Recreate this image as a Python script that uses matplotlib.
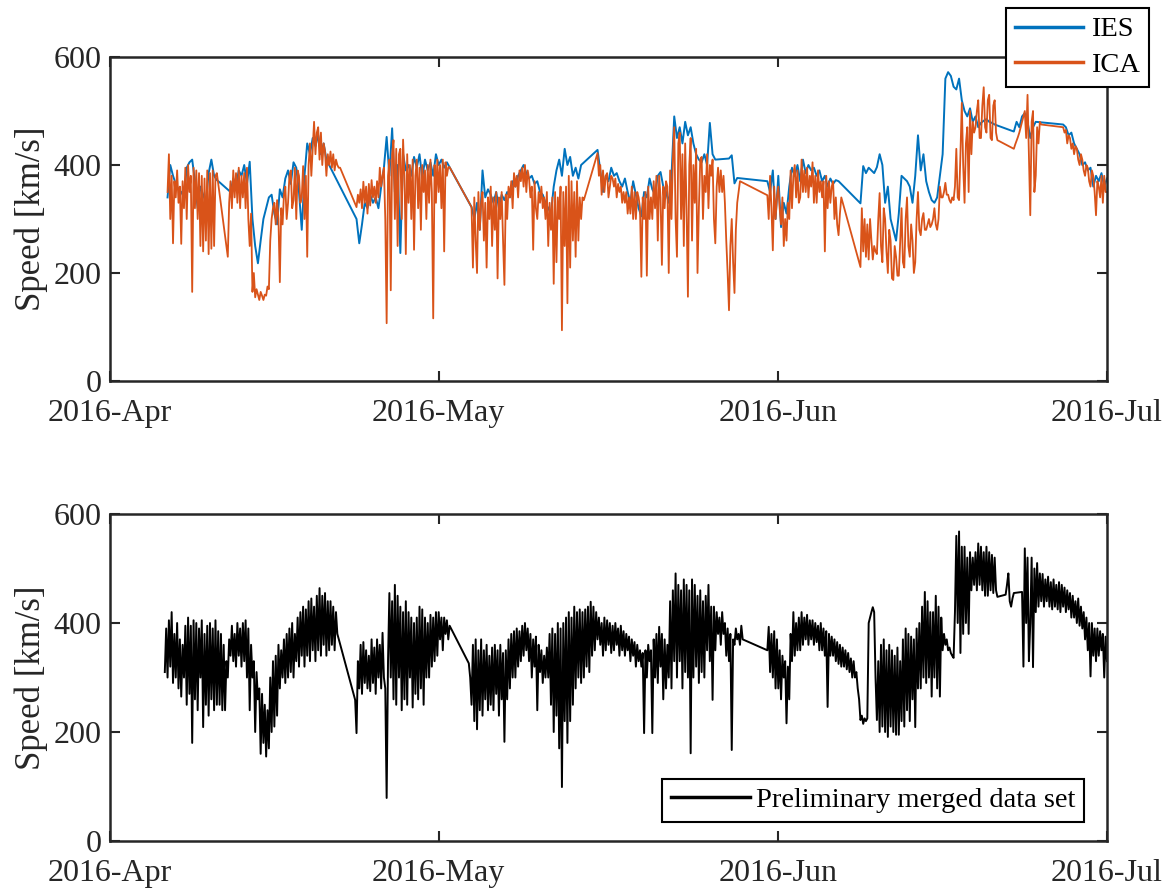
import numpy as np
import matplotlib
matplotlib.use('Agg')
import matplotlib.pyplot as plt
import matplotlib.dates as mdates

plt.rcParams['font.family'] = ['Liberation Serif', 'DejaVu Serif']

STEP_IES = 0.25    # days between samples inside a segment
STEP_ICA = 0.125
STEP_M = 0.125
T0 = np.datetime64('2016-04-01T00:00')

# solar wind speed [km/s], segments given as (start day after 2016-04-01, samples)
ies_start = [5.25, 11.0, 22.5, 33.0, 44.5, 56.5, 60.0, 68.5, 82.5, 87.0]
ies_speed = [
    [340, 400, 380, 365, 355, 350, 340, 395, 405, 410, 370, 320, 360, 345, 330, 385, 410, 380, 372, 368],
    [350, 375, 360, 390, 380, 400, 365, 406, 300, 250, 218, 260, 300, 320, 340, 345, 310, 290, 355, 340,
     375, 390, 365, 405, 395, 350, 280, 380, 440, 420, 450, 435, 455, 420, 440, 410, 400, 390],
    [300, 255, 290, 330, 320, 345, 330, 340, 320, 360, 395, 452, 380, 468, 350, 400, 237, 420, 390, 400,
     380, 415, 395, 420, 375, 410, 390, 405, 380, 420, 400, 410, 395, 405],
    [322, 300, 330, 280, 390, 340, 355, 345, 330, 350, 320, 345, 335, 350, 340, 370, 360, 380, 390, 400,
     385, 375, 380, 365, 370, 350, 345, 330, 320, 310, 360, 390, 410, 380, 430, 400, 415, 380, 395, 375, 400],
    [428, 390, 350, 380, 370, 395, 380, 385, 370, 360, 375, 350, 330, 370, 345, 320, 305, 350, 340, 375,
     355, 345, 380, 387, 360, 350, 330, 380, 490, 450, 470, 440, 480, 455, 470, 440, 420, 410, 405, 420,
     400, 478, 420, 410],
    [412, 418, 366, 376],
    [370, 350, 390, 300, 380, 285, 330, 310, 360, 395, 380, 400, 370, 410, 385, 400, 390, 395, 380, 390,
     370, 380, 360, 375, 365, 372, 370],
    [329, 398, 385, 395, 390, 385, 396, 420, 400, 330, 360, 300, 280, 260, 310, 380, 375, 370, 360, 330,
     380, 455, 390, 420, 370, 350, 335, 330, 340, 380, 420, 560, 572, 565, 545, 540, 560, 520, 500, 490,
     505, 480, 490, 470, 478, 482, 485, 480, 478, 475],
    [462, 480, 470, 490, 496, 480, 450, 470, 480],
    [475, 470, 455, 460, 440, 430, 420, 400, 405, 390, 395, 360, 380, 370, 385, 360, 375],
]

ica_start = [5.25, 10.75, 22.5, 33.0, 44.5, 60.0, 68.5, 82.5, 87.0]
ica_speed = [
    [350, 420, 300, 380, 255, 370,
     340, 390, 330, 360, 254, 370, 320, 395, 300, 400, 350, 380, 165, 395, 320, 390,
     300, 385, 250, 380, 240, 375, 260, 390, 235, 385, 245, 390, 250, 380, 385],
    [230, 330,
     370, 320, 390, 340, 385, 330, 395, 320, 380, 340, 385, 320, 395, 300, 250, 310,
     165, 200, 155, 170, 160, 150, 165, 158, 150, 160, 158, 175, 170, 260, 300, 320,
     330, 290, 335, 300, 183, 320, 290, 345, 360, 300, 330, 380, 390, 320, 335, 395,
     300, 390, 380, 330, 340, 398, 300, 380, 230, 400, 440, 380, 430, 480, 420, 460,
     470, 410, 460, 400, 440, 425, 380, 420, 400, 425, 395, 420, 390, 410, 400, 395, 395],
    [322, 345, 330, 355,
     320, 369, 330, 360, 310, 365, 325, 372, 340, 360, 330, 370, 340, 395, 360, 380,
     395, 300, 107, 380, 410, 168, 420, 446, 300, 430, 250, 420, 430, 300, 447, 380,
     235, 420, 330, 400, 300, 410, 243, 380, 410, 320, 395, 280, 400, 350, 390, 300,
     400, 330, 410, 350, 116, 400, 330, 410, 350, 400, 320, 410, 240, 405, 380, 396, 396],
    [322, 210, 340, 260, 200, 350, 280, 330, 350, 260, 330, 210, 340, 300, 360, 250,
     340, 280, 350, 190, 340, 300, 350, 260, 178, 345, 300, 360, 340, 370, 320, 385,
     360, 380, 340, 390, 370, 395, 360, 400, 350, 390, 375, 340, 360, 243, 370, 320,
     300, 350, 330, 360, 320, 340, 300, 350, 250, 330, 280, 340, 180, 350, 220, 340,
     300, 360, 94, 350, 250, 360, 144, 380, 210, 370, 260, 350, 230, 370, 260, 340,
     300, 340, 335],
    [422, 380, 400, 345,
     390, 350, 380, 385, 340, 360, 380, 375, 360, 375, 340, 365, 350, 360, 330, 350,
     330, 350, 310, 340, 310, 360, 300, 350, 300, 350, 340, 320, 193, 340, 300, 350,
     195, 360, 300, 340, 300, 370, 320, 380, 260, 380, 340, 215, 360, 320, 370, 360,
     200, 390, 300, 410, 470, 300, 230, 440, 460, 300, 420, 250, 440, 320, 156, 400,
     450, 260, 400, 330, 430, 200, 320, 410, 415, 300, 380, 350, 420, 320, 400, 380,
     410, 300, 255, 360, 395, 350, 390, 350, 380, 330, 260, 200, 131, 250, 300, 220,
     163, 280, 330, 350, 370],
    [344, 300, 380, 320, 242, 360, 300, 340, 360, 320, 290, 340, 250, 300, 260, 330,
     300, 390, 320, 380, 400, 340, 390, 330, 340, 410, 350, 390, 350, 395, 340, 380,
     360, 405, 330, 380, 330, 390, 350, 370, 340, 370, 240, 380, 320, 370, 330, 360,
     370, 300, 340, 290, 270, 310, 340],
    [211, 320, 240, 300,
     230, 290, 225, 300, 260, 225, 250, 240, 235, 300, 348, 250, 220, 320, 300, 240,
     200, 280, 260, 190, 187, 250, 230, 195, 195, 260, 320, 220, 210, 300, 340, 250,
     230, 290, 260, 200, 220, 300, 350, 280, 270, 300, 311, 280, 280, 290, 300, 285,
     290, 300, 320, 290, 280, 300, 360, 340, 340, 350, 367, 345, 345, 335, 330, 340,
     335, 360, 430, 340, 335, 420, 515, 400, 330, 440, 470, 350, 500, 420, 480, 460,
     470, 500, 520, 450, 450, 510, 544, 470, 460, 520, 530, 450, 446, 510, 520, 460, 446],
    [430, 438, 445, 452, 460, 470, 480, 490, 500, 450, 530, 420,
     307, 480, 500, 350, 380, 470, 440, 480, 475],
    [470, 460, 465, 440, 455, 450, 430, 440, 420, 435, 430, 410, 400, 420, 410, 390,
     380, 400, 395, 370, 360, 390, 380, 350, 307, 370, 360, 340, 380, 330, 380, 350, 350],
]

merged_start = [5.0, 22.375, 32.75, 60.0, 81.75, 83.25]
merged_speed = [
    [310, 390, 300, 405, 320, 420, 290, 380, 300, 400, 280, 370, 265, 360, 300, 395,
     250, 410, 270, 395, 180, 405, 260, 400, 240, 390, 300, 405, 209, 380, 250, 395,
     230, 400, 260, 390, 240, 405, 250, 385, 250, 380, 240, 360, 240, 330, 300, 370,
     340, 395, 330, 380, 320, 400, 340, 390, 320, 400, 330, 405, 300, 390, 240, 360,
     300, 330, 200, 310, 260, 280, 160, 270, 180, 250, 155, 240, 170, 300, 200, 330,
     210, 340, 230, 360, 280, 350, 300, 370, 290, 380, 300, 390, 310, 400, 300, 380,
     330, 410, 320, 420, 340, 430, 320, 425, 340, 440, 330, 445, 350, 430, 330, 450,
     350, 464, 340, 450, 360, 455, 340, 440, 350, 440, 360, 430, 350, 420, 380],
    [259, 198, 330, 280, 360,
     270, 365, 290, 350, 280, 340, 275, 370, 290, 355, 270, 370, 300, 360, 280, 382,
     300, 280, 79, 330, 455, 300, 440, 260, 470, 250, 450, 300, 430, 240, 420, 260,
     440, 250, 420, 300, 410, 245, 400, 270, 410, 260, 430, 280, 425, 250, 410, 300,
     400, 300, 415, 320, 410, 330, 420, 340, 420, 370, 410, 350, 410, 380, 405, 370, 395],
    [326, 300,
     250, 360, 220, 370, 205, 350, 240, 370, 230, 350, 260, 360, 240, 340, 250, 355,
     240, 360, 270, 350, 230, 360, 260, 345, 182, 350, 260, 370, 280, 380, 300, 385,
     300, 390, 320, 385, 330, 395, 340, 400, 350, 390, 330, 380, 300, 370, 320, 375,
     240, 360, 310, 350, 290, 340, 300, 355, 300, 380, 250, 390, 200, 380, 230, 400,
     170, 390, 99, 400, 220, 410, 180, 420, 220, 410, 250, 430, 280, 420, 300, 425,
     290, 420, 300, 425, 320, 430, 310, 439, 340, 430, 350, 420, 370, 410, 360, 400,
     340, 410, 350, 405, 360, 400, 345, 395, 350, 400, 360, 390, 340, 395, 350, 385,
     340, 380, 350, 375, 330, 370, 340, 365, 320, 360, 330, 350, 320, 345, 198, 350,
     300, 360, 330, 350, 198, 370, 300, 380, 290, 393, 320, 380, 260, 370, 280, 360,
     300, 440, 280, 460, 330, 491, 300, 470, 330, 460, 280, 480, 310, 470, 300, 460,
     161, 480, 300, 470, 320, 450, 290, 460, 310, 440, 300, 450, 350, 470, 330, 430,
     259, 430, 350, 420, 380, 410, 360, 420, 380, 400, 340, 390, 330, 380, 167, 370,
     360, 390, 370, 380, 360, 395, 370],
    [350, 393, 310, 380, 300, 385, 280, 370, 280, 350, 260, 340, 300, 330, 216, 320,
     260, 380, 330, 420, 340, 400, 350, 410, 350, 420, 360, 410, 370, 415, 360, 405,
     370, 405, 360, 400, 365, 395, 350, 400, 350, 390, 340, 385, 246, 380, 340, 375,
     340, 370, 330, 365, 325, 360, 320, 355, 320, 350, 315, 345, 310, 335, 300, 330,
     300, 310, 280, 260, 222, 230, 215, 225, 220, 225, 400, 410, 420, 429, 420, 300,
     222, 330, 200, 360, 210, 370, 200, 350, 191, 360, 210, 350, 200, 340, 195, 355,
     195, 330, 220, 370, 210, 390, 240, 380, 220, 375, 260, 370, 209, 390, 280, 400,
     280, 430, 300, 457, 290, 440, 300, 420, 265, 420, 300, 450, 280, 430, 265, 410,
     350, 380, 360, 370, 350, 355, 345, 340, 336, 420, 560, 400, 568, 345, 540, 380,
     540, 400, 520, 380, 530, 460, 520, 470, 530, 460, 546, 470, 540, 460, 530, 450,
     540, 450, 530, 460, 525, 455, 520, 460, 448],
    [452, 470, 491, 440, 430, 445, 455],
    [457, 320, 537, 400, 520, 330,
     400, 520, 319, 500, 420, 510, 430, 491, 440, 490, 430, 480, 440, 485, 430, 475,
     425, 480, 430, 470, 425, 475, 420, 470, 430, 465, 420, 460, 425, 455, 410, 450,
     410, 440, 400, 445, 395, 430, 390, 420, 370, 410, 350, 400, 302, 400, 340, 390,
     330, 390, 340, 385, 350, 380, 300, 375, 330],
]


def build(starts, speeds, step):
    days, vals = [], []
    for s, seg in zip(starts, speeds):
        for i, v in enumerate(seg):
            days.append(s + i * step)
            vals.append(v)
    t = T0 + (np.array(days) * 24 * 60).round().astype('timedelta64[m]')
    return t.astype('datetime64[ms]').astype(object), np.array(vals, dtype=float)


AX_COL = '#262626'
TICK_FS = 23


def style(ax):
    ax.set_xlim(np.datetime64('2016-04-01').astype(object), np.datetime64('2016-07-01').astype(object))
    ax.set_ylim(0, 600)
    ax.set_yticks([0, 200, 400, 600])
    ax.xaxis.set_major_locator(mdates.MonthLocator())
    ax.xaxis.set_major_formatter(mdates.DateFormatter('%Y-%b'))
    ax.tick_params(direction='in', length=7, width=1.5, top=True, right=True,
                   labelsize=TICK_FS, colors=AX_COL, pad=6)
    ax.tick_params(axis='x', pad=13)
    for sp in ax.spines.values():
        sp.set_linewidth(1.8)
        sp.set_color(AX_COL)
    ax.set_ylabel('Speed [km/s]', fontsize=25, color=AX_COL, labelpad=4)


fig = plt.figure(figsize=(11.73, 8.91), dpi=100)
ax1 = fig.add_axes([0.0938, 0.5724, 0.8499, 0.3636])
ax2 = fig.add_axes([0.0938, 0.0561, 0.8499, 0.3670])

t, v = build(ies_start, ies_speed, STEP_IES)
ax1.plot(t, v, color='#0072BD', lw=1.4, label='IES')
t, v = build(ica_start, ica_speed, STEP_ICA)
ax1.plot(t, v, color='#D95319', lw=1.3, label='ICA')
style(ax1)
leg = ax1.legend(loc='upper right', bbox_to_anchor=(1149 / 1173, 1 - 8 / 891),
                 bbox_transform=fig.transFigure, fontsize=20.5, fancybox=False,
                 framealpha=1, edgecolor='black', handlelength=2.4, handletextpad=0.3,
                 borderpad=0.3, labelspacing=0.35, borderaxespad=0)
leg.get_frame().set_linewidth(1.5)
for line in leg.get_lines():
    line.set_linewidth(2.5)

t, v = build(merged_start, merged_speed, STEP_M)
ax2.plot(t, v, color='black', lw=1.4, label='Preliminary merged data set')
style(ax2)
leg2 = ax2.legend(loc='lower right', bbox_to_anchor=(1084 / 1173, 1 - 822 / 891),
                  bbox_transform=fig.transFigure, fontsize=20.5, fancybox=False,
                  framealpha=1, edgecolor='black', handlelength=2.8, handletextpad=0.2,
                  borderpad=0.3, borderaxespad=0)
leg2.get_frame().set_linewidth(1.5)
for line in leg2.get_lines():
    line.set_linewidth(2.5)

fig.savefig('out.png', dpi=100)
